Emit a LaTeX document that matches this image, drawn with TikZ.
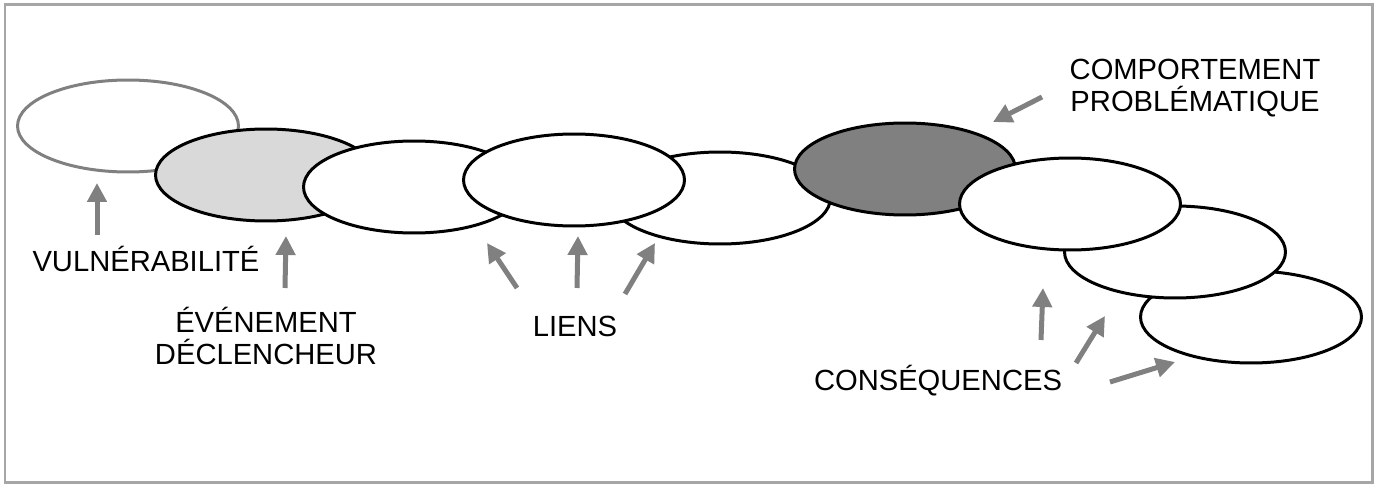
\documentclass[tikz,border=0pt]{standalone}
\usepackage{fontspec}
\setmainfont{Liberation Sans}
\usetikzlibrary{shapes.geometric,arrows.meta}

\definecolor{framegray}{HTML}{A6A6A6}
\definecolor{arrowgray}{HTML}{808080}
\definecolor{lightfill}{HTML}{D9D9D9}
\definecolor{darkfill}{HTML}{808080}

\tikzset{
    blob/.style={ellipse, draw=black, fill=white, line width=0.06cm,
        minimum width=4.42cm, minimum height=1.84cm, inner sep=0pt},
    pointer/.style={draw=arrowgray, line width=0.1cm,
        -{Triangle[length=0.38cm, width=0.38cm]}},
    lbl/.style={font=\fontsize{16.6}{18.6}\selectfont, align=center, inner sep=0pt, anchor=base}
}

\begin{document}
\begin{tikzpicture}[x=0.02cm, y=-0.02cm]
    \useasboundingbox (0,0) rectangle (1377,486);
    \draw[framegray, line width=0.06cm] (5,5) rectangle (1372,482);

    %%chain of links, back to front
    \node[blob, draw=arrowgray] (vuln) at (128,126) {};
    \node[blob, fill=lightfill] (event) at (266,175) {};
    \node[blob] (link1) at (414,187) {};
    \node[blob] (link3) at (720,198) {};
    \node[blob] (link2) at (574,180) {};
    \node[blob, fill=darkfill] (behav) at (905,169) {};
    \node[blob] (cons3) at (1251,317) {};
    \node[blob] (cons2) at (1175,252) {};
    \node[blob] (cons1) at (1070,204) {};

    %%labels (base = last line)
    \node[lbl] (vulntxt) at (146,272) {VULNÉRABILITÉ};
    \node[lbl] (eventtxt) at (266,365) {ÉVÉNEMENT\\DÉCLENCHEUR};
    \node[lbl] (linktxt) at (575,337) {LIENS};
    \node[lbl] (behavtxt) at (1195,112) {COMPORTEMENT\\PROBLÉMATIQUE};
    \node[lbl] (constxt) at (938,391) {CONSÉQUENCES};

    %%arrow ends
    \coordinate (v0) at (97,235);   \coordinate (v1) at (97,183);
    \coordinate (e0) at (285,288);  \coordinate (e1) at (286,236);
    \coordinate (l0) at (517,288);  \coordinate (l1) at (487,243);
    \coordinate (m0) at (577,288);  \coordinate (m1) at (578,236);
    \coordinate (r0) at (625,294);  \coordinate (r1) at (655,243);
    \coordinate (b0) at (1042,97);  \coordinate (b1) at (993,122);
    \coordinate (c0) at (1041,340); \coordinate (c1) at (1043,288);
    \coordinate (d0) at (1076,363); \coordinate (d1) at (1105,316);
    \coordinate (f0) at (1110,382); \coordinate (f1) at (1175,362);

    \foreach \s/\t in {v0/v1, e0/e1, l0/l1, m0/m1, r0/r1, b0/b1, c0/c1, d0/d1, f0/f1}
        \draw[pointer] (\s) -- (\t);
\end{tikzpicture}
\end{document}
